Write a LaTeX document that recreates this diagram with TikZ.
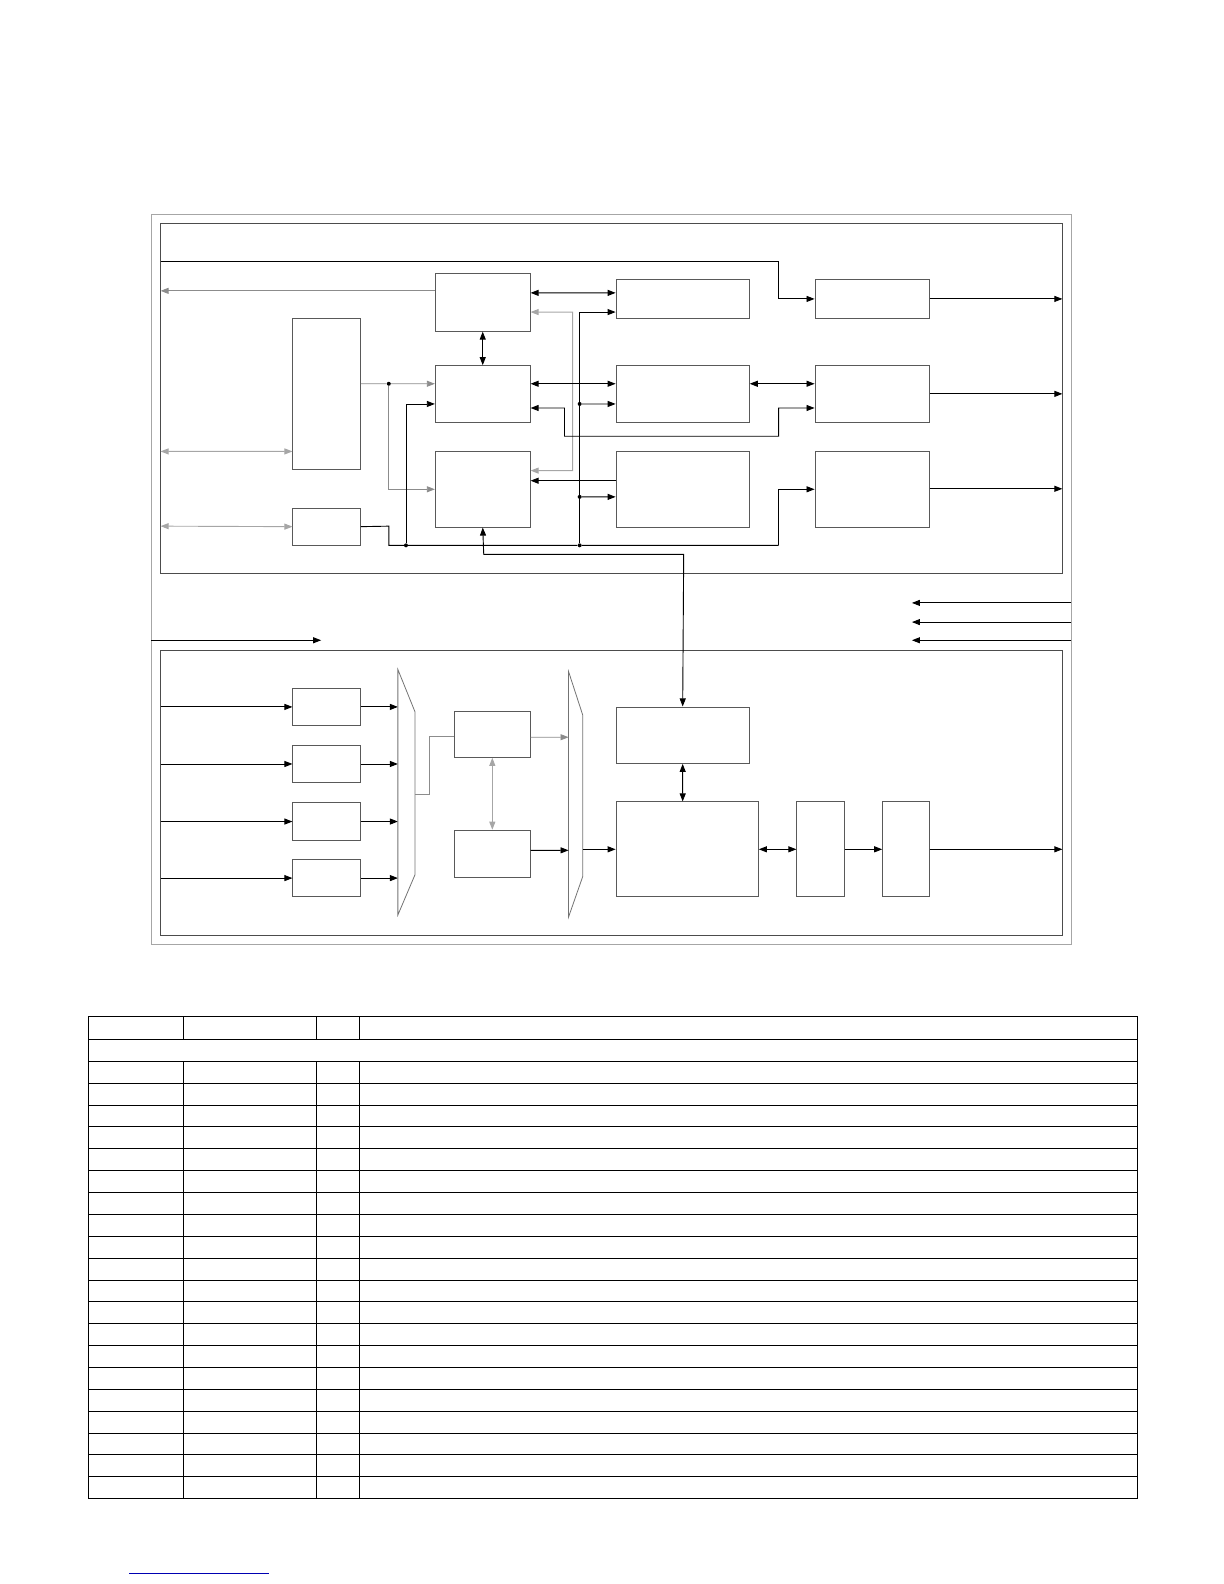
\documentclass[tikz,border=0pt]{standalone}
\usetikzlibrary{arrows.meta}
\tikzset{
  blk/.style={draw=black!65, line width=0.8pt, inner sep=0pt},
  sig/.style={-{Triangle[length=8pt,width=6pt]}, line width=0.9pt},
  bsig/.style={{Triangle[length=8pt,width=6pt]}-{Triangle[length=8pt,width=6pt]}, line width=0.9pt},
  gsig/.style={sig, draw=black!45},
  gbsig/.style={bsig, draw=black!35},
  jdot/.style={circle, fill, inner sep=1.4pt},
  frame/.style={draw=black!70, line width=0.9pt},
  grid/.style={line width=1pt}
}
\begin{document}
\begin{tikzpicture}[x=1bp, y=-1bp]
    \useasboundingbox (0,0) rectangle (1212,1568.5);

    % Rahmen
    \draw[draw=black!35, line width=1pt] (150,212) rectangle (1061,935);
    \draw[frame] (159,221) rectangle (1052,568);
    \draw[frame] (159,644) rectangle (1052,926);

    % Bloecke oben
    \node[blk, minimum width=94bp, minimum height=57bp] (ctl) at (478,299.5) {};
    \node[blk, minimum width=94bp, minimum height=56bp] (core) at (478,390) {};
    \node[blk, minimum width=94bp, minimum height=75bp] (mem) at (478,484.5) {};
    \node[blk, minimum width=67bp, minimum height=150bp] (host) at (323.5,390) {};
    \node[blk, minimum width=67bp, minimum height=37bp] (clk) at (323.5,521.5) {};
    \node[blk, minimum width=132bp, minimum height=38bp] (ma) at (676,296) {};
    \node[blk, minimum width=132bp, minimum height=56bp] (mb) at (676,390) {};
    \node[blk, minimum width=132bp, minimum height=75bp] (mc) at (676,484.5) {};
    \node[blk, minimum width=113bp, minimum height=38bp] (ra) at (863.5,296) {};
    \node[blk, minimum width=113bp, minimum height=56bp] (rb) at (863.5,390) {};
    \node[blk, minimum width=113bp, minimum height=75bp] (rc) at (863.5,484.5) {};

    % Punkte und Enden
    \coordinate (outA) at (159,288);
    \coordinate (ioH) at (159,447);
    \coordinate (ioC) at (159,521);
    \coordinate (oa) at (1052,296);
    \coordinate (ob) at (1052,390);
    \coordinate (oc) at (1052,484);
    \node[jdot] (j1) at (385,380) {};
    \node[jdot] (j2) at (402,540) {};
    \node[jdot] (j3) at (574,540) {};
    \node[jdot] (j4) at (574,400) {};
    \node[jdot] (j5) at (574,492) {};

    % Verbindungen oben
    \draw[sig] (159,259) -- (771,259) |- (ra.west);
    \draw[gsig] (ctl.west |- outA) -- (outA);
    \draw[bsig] ([yshift=9.5bp]ctl.east) -- ([yshift=6bp]ma.west);
    \draw[gbsig] ([yshift=-9.5bp]ctl.east) -- (567,309) -- (567,466) -- ([yshift=18.5bp]mem.east);
    \draw[bsig] (ctl.south) -- (core.north);
    \draw[draw=black!45, line width=0.9pt] ([yshift=10bp]host.east) -- (j1);
    \draw[gsig] (j1) -- ([yshift=10bp]core.west);
    \draw[gsig] (j1) |- (mem.west);
    \draw[gbsig] (ioH) -- ([yshift=-57bp]host.west);
    \draw[gbsig] (ioC) -- (clk.west);
    \draw[line width=0.9pt] (clk.east) -- (385,521) |- (j2) -- (j3) -- (771,540);
    \draw[sig] (771,540) |- (rc.west);
    \draw[sig] (j2) |- ([yshift=-10bp]core.west);
    \draw[sig] (j3) |- ([yshift=-13bp]ma.west);
    \draw[sig] (j4) -- ([yshift=-10bp]mb.west);
    \draw[sig] (j5) -- ([yshift=-7.5bp]mc.west);
    \draw[bsig] ([yshift=10bp]core.east) -- ([yshift=10bp]mb.west);
    \draw[bsig] ([yshift=-14bp]core.east) -- (559,404) -- (559,432) -- (771,432) |- ([yshift=-14bp]rb.west);
    \draw[sig] ([yshift=8.5bp]mc.west) -- ([yshift=8.5bp]mem.east);
    \draw[bsig] ([yshift=10bp]mb.east) -- ([yshift=10bp]rb.west);
    \draw[sig] (ra.east) -- (oa);
    \draw[sig] (rb.east) -- (ob);
    \draw[sig] ([yshift=0.5bp]rc.east) -- (oc);

    % Zwischen den Rahmen
    \foreach \y in {597,616,634}
        \draw[sig] (1061,\y) -- (903,\y);
    \draw[sig] (150,634) -- (318,634);

    % Bloecke unten
    \foreach \y [count=\i] in {700,756.5,813.5,869.5} {
        \node[blk, minimum width=67bp, minimum height=37bp] (in\i) at (323.5,\y) {};
        \draw[sig] (159,\y) -- (in\i.west);
        \draw[sig] (in\i.east) -- (394,\y);
    }
    \draw[draw=black!55, line width=0.8pt] (394,663) -- (411,705) -- (411,866) -- (394,906) -- cycle;
    \draw[draw=black!55, line width=0.8pt] (563,665) -- (577,708) -- (577,868) -- (563,908) -- cycle;
    \node[blk, minimum width=75bp, minimum height=46bp] (buf) at (487.5,727) {};
    \node[blk, minimum width=75bp, minimum height=47bp] (reg) at (487.5,845.5) {};
    \node[blk, minimum width=132bp, minimum height=56bp] (ctrl) at (676,728) {};
    \node[blk, minimum width=141bp, minimum height=94bp] (proc) at (680.5,841) {};
    \node[blk, minimum width=47bp, minimum height=94bp] (drv) at (812.5,841) {};
    \node[blk, minimum width=46bp, minimum height=94bp] (out) at (897,841) {};
    \coordinate (od) at (1052,841);

    \draw[draw=black!45, line width=0.8pt] (411,787) -- (425,787) |- ([yshift=-2bp]buf.west);
    \draw[gbsig] (buf.south) -- (reg.north);
    \draw[gsig] ([yshift=-3bp]buf.east) -- (563,730);
    \draw[sig] ([yshift=3.5bp]reg.east) -- (563,842);
    \draw[sig] (577,841) -- (proc.west);
    \draw[bsig] (mem.south) -- (479,549) -- (677,549) -- (ctrl.north);
    \draw[bsig] (ctrl.south) -- ([xshift=-4.5bp]proc.north);
    \draw[bsig] (proc.east) -- (drv.west);
    \draw[sig] (drv.east) -- (out.west);
    \draw[sig] (out.east) -- (od);

    % Tabelle
    \draw[grid] (88,1007) rectangle (1126,1484);
    \foreach \x in {182,313,356} {
        \draw[grid] (\x,1007) -- (\x,1029);
        \draw[grid] (\x,1051) -- (\x,1484);
    }
    \draw[grid] (88,1029) -- (1126,1029);
    \foreach \i in {0,...,19}
        \draw[grid] (88,1051+\i*21.65) -- (1126,1051+\i*21.65);

    % Link unten
    \draw[blue!70!black, line width=0.8pt] (128,1558) -- (266,1558);
\end{tikzpicture}
\end{document}
